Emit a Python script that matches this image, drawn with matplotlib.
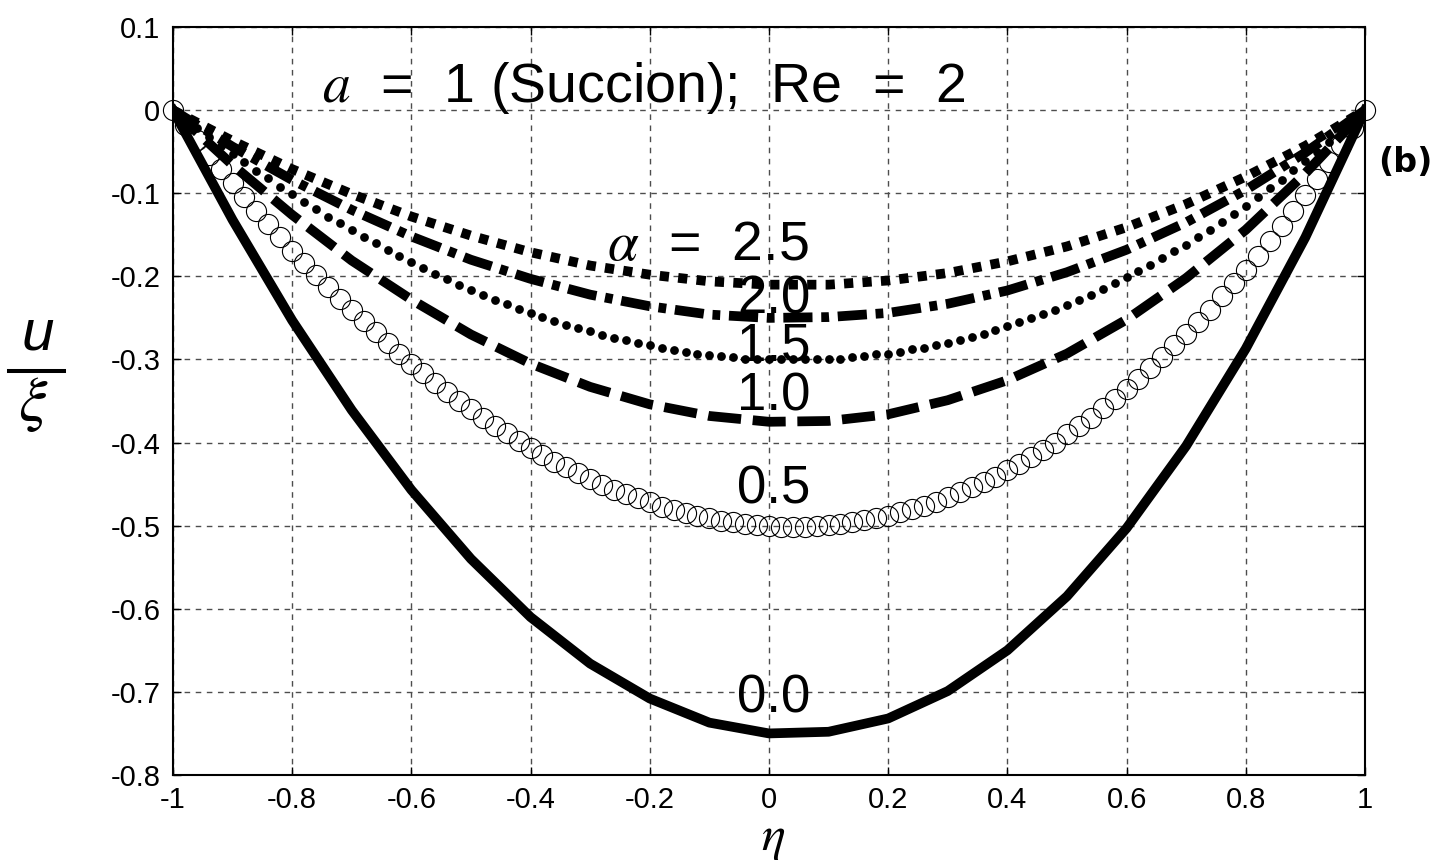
import matplotlib
matplotlib.use("Agg")
import matplotlib.pyplot as plt
from matplotlib.lines import Line2D

plt.rcParams['font.family'] = ['Liberation Sans', 'DejaVu Sans']
plt.rcParams['mathtext.fontset'] = 'stix'
plt.rcParams['axes.unicode_minus'] = False

# coarse grid for the line curves
eta = [-1.0, -0.9, -0.8, -0.7, -0.6, -0.5, -0.4, -0.3, -0.2, -0.1, 0.0,
       0.1, 0.2, 0.3, 0.4, 0.5, 0.6, 0.7, 0.8, 0.9, 1.0]
u_a00 = [0, -0.132, -0.253, -0.361, -0.457, -0.540, -0.610, -0.666, -0.708, -0.737, -0.750,
         -0.748, -0.732, -0.699, -0.650, -0.585, -0.503, -0.404, -0.287, -0.153, 0]
u_a10 = [0, -0.066, -0.126, -0.181, -0.228, -0.270, -0.305, -0.333, -0.354, -0.368, -0.375,
         -0.374, -0.366, -0.349, -0.325, -0.293, -0.252, -0.202, -0.144, -0.076, 0]
u_a20 = [0, -0.044, -0.084, -0.120, -0.152, -0.180, -0.203, -0.222, -0.236, -0.246, -0.250,
         -0.249, -0.244, -0.233, -0.217, -0.195, -0.168, -0.135, -0.096, -0.051, 0]
u_a25 = [0, -0.037, -0.071, -0.101, -0.128, -0.151, -0.171, -0.187, -0.198, -0.206, -0.210,
         -0.210, -0.205, -0.196, -0.182, -0.164, -0.141, -0.113, -0.080, -0.043, 0]

# fine grid for the marker curves
eta_fine = [-1.00, -0.98, -0.96, -0.94, -0.92, -0.90, -0.88, -0.86, -0.84, -0.82,
            -0.80, -0.78, -0.76, -0.74, -0.72, -0.70, -0.68, -0.66, -0.64, -0.62,
            -0.60, -0.58, -0.56, -0.54, -0.52, -0.50, -0.48, -0.46, -0.44, -0.42,
            -0.40, -0.38, -0.36, -0.34, -0.32, -0.30, -0.28, -0.26, -0.24, -0.22,
            -0.20, -0.18, -0.16, -0.14, -0.12, -0.10, -0.08, -0.06, -0.04, -0.02,
            0.00,
            0.02, 0.04, 0.06, 0.08, 0.10, 0.12, 0.14, 0.16, 0.18, 0.20,
            0.22, 0.24, 0.26, 0.28, 0.30, 0.32, 0.34, 0.36, 0.38, 0.40,
            0.42, 0.44, 0.46, 0.48, 0.50, 0.52, 0.54, 0.56, 0.58, 0.60,
            0.62, 0.64, 0.66, 0.68, 0.70, 0.72, 0.74, 0.76, 0.78, 0.80,
            0.82, 0.84, 0.86, 0.88, 0.90, 0.92, 0.94, 0.96, 0.98, 1.00]
u_a05 = [0.0, -0.018, -0.036, -0.054, -0.071, -0.088, -0.105, -0.121, -0.137, -0.153,
         -0.169, -0.184, -0.198, -0.213, -0.227, -0.241, -0.254, -0.267, -0.280, -0.293,
         -0.305, -0.316, -0.328, -0.339, -0.350, -0.360, -0.370, -0.380, -0.389, -0.398,
         -0.407, -0.415, -0.423, -0.430, -0.437, -0.444, -0.451, -0.457, -0.462, -0.467,
         -0.472, -0.477, -0.481, -0.485, -0.488, -0.491, -0.494, -0.496, -0.498, -0.499,
         -0.500,
         -0.501, -0.501, -0.501, -0.500, -0.499, -0.498, -0.496, -0.493, -0.491, -0.488,
         -0.484, -0.480, -0.476, -0.471, -0.466, -0.460, -0.454, -0.448, -0.441, -0.433,
         -0.426, -0.417, -0.409, -0.400, -0.390, -0.380, -0.370, -0.359, -0.347, -0.335,
         -0.323, -0.310, -0.297, -0.283, -0.269, -0.255, -0.240, -0.224, -0.208, -0.192,
         -0.175, -0.157, -0.139, -0.121, -0.102, -0.083, -0.063, -0.042, -0.021, 0.0]
u_a15 = [0.0, -0.011, -0.022, -0.032, -0.043, -0.053, -0.063, -0.073, -0.082, -0.092,
         -0.101, -0.110, -0.119, -0.128, -0.136, -0.144, -0.153, -0.160, -0.168, -0.176,
         -0.183, -0.190, -0.197, -0.203, -0.210, -0.216, -0.222, -0.228, -0.233, -0.239,
         -0.244, -0.249, -0.254, -0.258, -0.262, -0.266, -0.270, -0.274, -0.277, -0.280,
         -0.283, -0.286, -0.289, -0.291, -0.293, -0.295, -0.296, -0.297, -0.299, -0.299,
         -0.300,
         -0.300, -0.300, -0.300, -0.300, -0.299, -0.299, -0.297, -0.296, -0.294, -0.293,
         -0.291, -0.288, -0.286, -0.283, -0.280, -0.276, -0.273, -0.269, -0.264, -0.260,
         -0.255, -0.250, -0.245, -0.240, -0.234, -0.228, -0.222, -0.215, -0.208, -0.201,
         -0.194, -0.186, -0.178, -0.170, -0.162, -0.153, -0.144, -0.134, -0.125, -0.115,
         -0.105, -0.094, -0.084, -0.072, -0.061, -0.050, -0.038, -0.025, -0.013, 0.0]

xticks = [-1, -0.8, -0.6, -0.4, -0.2, 0, 0.2, 0.4, 0.6, 0.8, 1]
xtick_labels = ['-1', '-0.8', '-0.6', '-0.4', '-0.2', '0', '0.2', '0.4', '0.6', '0.8', '1']
yticks = [0.1, 0, -0.1, -0.2, -0.3, -0.4, -0.5, -0.6, -0.7, -0.8]
ytick_labels = ['0.1', '0', '-0.1', '-0.2', '-0.3', '-0.4', '-0.5', '-0.6', '-0.7', '-0.8']

curve_labels = ['2.0', '1.5', '1.0', '0.5', '0.0']
curve_label_y = [-0.228, -0.284, -0.345, -0.456, -0.708]

fig = plt.figure(figsize=(14.4, 8.61), dpi=100)
ax = fig.add_axes([0.1201, 0.0999, 0.8278, 0.8687])

ax.plot(eta, u_a00, color='black', lw=7, solid_joinstyle='round')
ax.plot(eta_fine, u_a05, linestyle='none', marker='o', markersize=14.5,
        markerfacecolor='none', markeredgecolor='black', markeredgewidth=0.8, clip_on=False)
ax.plot(eta, u_a10, color='black', lw=7, dashes=(3.4, 1.2), dash_capstyle='butt')
ax.plot(eta_fine, u_a15, linestyle='none', marker='o', markersize=6.3,
        color='black', markeredgewidth=0)
ax.plot(eta, u_a20, color='black', lw=7, dashes=(3.0, 0.9, 0.8, 0.9), dash_capstyle='butt')
ax.plot(eta, u_a25, color='black', lw=7, dashes=(0.95, 0.95), dash_capstyle='butt')

ax.set_xlim(-1, 1)
ax.set_ylim(-0.8, 0.1)
ax.set_xticks(xticks)
ax.set_xticklabels(xtick_labels)
ax.set_yticks(yticks)
ax.set_yticklabels(ytick_labels)
ax.tick_params(direction='in', length=6, width=1, top=True, right=True, labelsize=21)
ax.tick_params(axis='x', pad=8)
ax.tick_params(axis='y', pad=9)
ax.grid(True, color='0.3', lw=1, linestyle=(0, (4, 4)))
for sp in ax.spines.values():
    sp.set_linewidth(1.5)

big = 40
ax.text(-0.75, 0.027, r'$a$  =  1 (Succion);  Re  =  2', fontsize=big, ha='left', va='center')
ax.text(-0.272, -0.163, r'$\alpha$  =  2.5', fontsize=big, ha='left', va='center')
for lab, yv in zip(curve_labels, curve_label_y):
    ax.text(0.008, yv, lab, fontsize=38, ha='center', va='center')

fig.text(0.9757, 0.8118, '(b)', fontsize=24, fontweight='bold',
         family='DejaVu Sans', ha='center', va='center')

# y label as a stacked fraction u / xi
fig.text(0.026, 1 - 350 / 861, 'u', fontsize=42, style='italic', ha='center', va='baseline')
fig.add_artist(Line2D([0.0063, 0.0444], [1 - 371 / 861, 1 - 371 / 861],
                      color='black', lw=2.9, transform=fig.transFigure))
fig.text(0.0230, 1 - 404 / 861, r'$\xi$', fontsize=46, ha='center', va='center')

fig.text(0.537, 1 - 850 / 861, r'$\eta$', fontsize=36, ha='center', va='baseline')

fig.savefig('out.png', dpi=100)
